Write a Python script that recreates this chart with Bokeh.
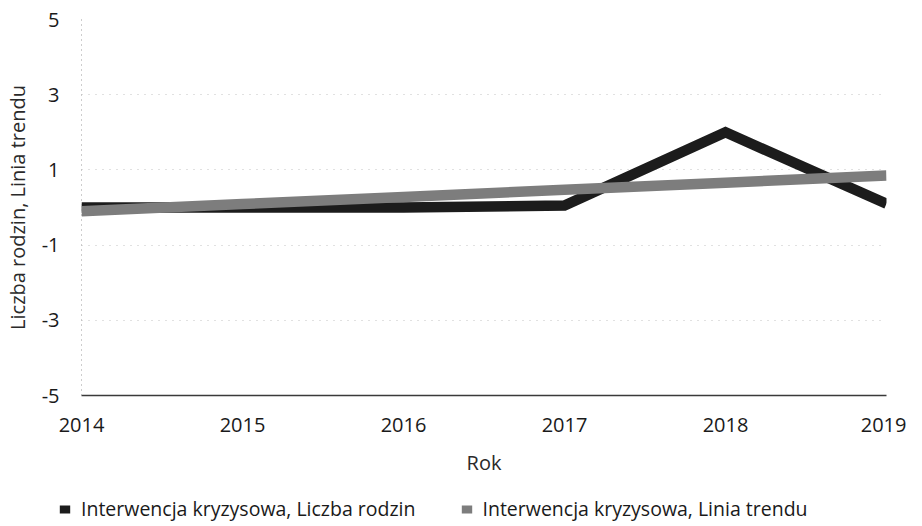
from bokeh.plotting import figure
from bokeh.layouts import column, row
from bokeh.models import FixedTicker, Legend, LegendItem, ColumnDataSource, Range1d
from bokeh.embed import file_html
from bokeh.resources import INLINE

years = [2014, 2015, 2016, 2017, 2018, 2019]
liczba_rodzin = [0, 0, 0, 0.05, 2, 0.1]
linia_trendu = [-0.1, 0.09, 0.28, 0.47, 0.66, 0.85]
y_ticks = [-5, -3, -1, 1, 3, 5]
y_tick_labels = ["-5", "-3", "-1", "1", "3", "5"]
x_tick_labels = ["2014", "2015", "2016", "2017", "2018", "2019"]
series_names = ["Interwencja kryzysowa, Liczba rodzin", "Interwencja kryzysowa, Linia trendu"]
series_colors = ["#1c1c1c", "#7d7d7d"]

FONT = "Open Sans"
TXT = "#1a1a1a"
W = 906

p = figure(width=W, height=480, output_backend="svg", toolbar_location=None,
           x_range=Range1d(2014, 2019), y_range=Range1d(-5, 5),
           min_border_left=78, min_border_right=20, min_border_top=19, min_border_bottom=85)
p.outline_line_color = None
p.background_fill_color = "white"
p.border_fill_color = "white"

src = ColumnDataSource(dict(x=years, a=liczba_rodzin, b=linia_trendu))
p.line("x", "a", source=src, line_color=series_colors[0], line_width=10.5,
       line_join="miter", line_cap="butt")
p.line("x", "b", source=src, line_color=series_colors[1], line_width=10.5,
       line_join="miter", line_cap="butt")

p.xaxis.ticker = FixedTicker(ticks=years)
p.xaxis.major_label_overrides = {y: t for y, t in zip(years, x_tick_labels)}
p.yaxis.ticker = FixedTicker(ticks=y_ticks)
p.yaxis.major_label_overrides = {y: t for y, t in zip(y_ticks, y_tick_labels)}

for ax in (p.xaxis, p.yaxis):
    ax.major_tick_line_color = None
    ax.minor_tick_line_color = None
    ax.major_label_text_font = FONT
    ax.major_label_text_font_size = "20px"
    ax.major_label_text_color = TXT
    ax.axis_label_text_font = FONT
    ax.axis_label_text_font_size = "20px"
    ax.axis_label_text_font_style = "normal"
    ax.axis_label_text_color = "#2a2a2a"

p.xaxis.axis_label = "Rok"
p.xaxis.axis_line_color = "#3a3a3a"
p.xaxis.axis_line_width = 1.5
p.xaxis.major_label_standoff = 16
p.xaxis.axis_label_standoff = 14

p.yaxis.axis_label = "Liczba rodzin, Linia trendu"
p.yaxis.axis_line_color = "#9a9a9a"
p.yaxis.axis_line_dash = "1 4"
p.yaxis.major_label_standoff = 16
p.yaxis.axis_label_standoff = 8

p.xgrid.grid_line_color = None
p.ygrid.grid_line_color = "#9a9a9a"
p.ygrid.grid_line_alpha = 0.6
p.ygrid.grid_line_dash = "1 6"

# separate strip holding the legend under the chart
lg = figure(width=W, height=42, output_backend="svg", toolbar_location=None,
            x_range=Range1d(0, 1), y_range=Range1d(0, 1),
            min_border=0, x_axis_type=None, y_axis_type=None)
lg.outline_line_color = None
lg.grid.grid_line_color = None
# legend proxies: same data, lying outside this strip's visible range
s1 = lg.quad(left="x", right="x", top="a", bottom="a", source=src,
             fill_color=series_colors[0], line_color=None)
s2 = lg.quad(left="x", right="x", top="b", bottom="b", source=src,
             fill_color=series_colors[1], line_color=None)
legend = Legend(items=[LegendItem(label=series_names[0], renderers=[s1]),
                       LegendItem(label=series_names[1], renderers=[s2])],
                orientation="horizontal", location=(58, 0),
                glyph_width=13, glyph_height=10, label_text_font=FONT,
                label_text_font_size="19.5px", label_text_color=TXT,
                label_standoff=10, spacing=44, padding=0, margin=0,
                label_height=18, border_line_color=None, background_fill_alpha=0)
lg.add_layout(legend, "center")

layout = column(p, row(lg), spacing=0)
open("out.html", "w").write(file_html(layout, INLINE))
